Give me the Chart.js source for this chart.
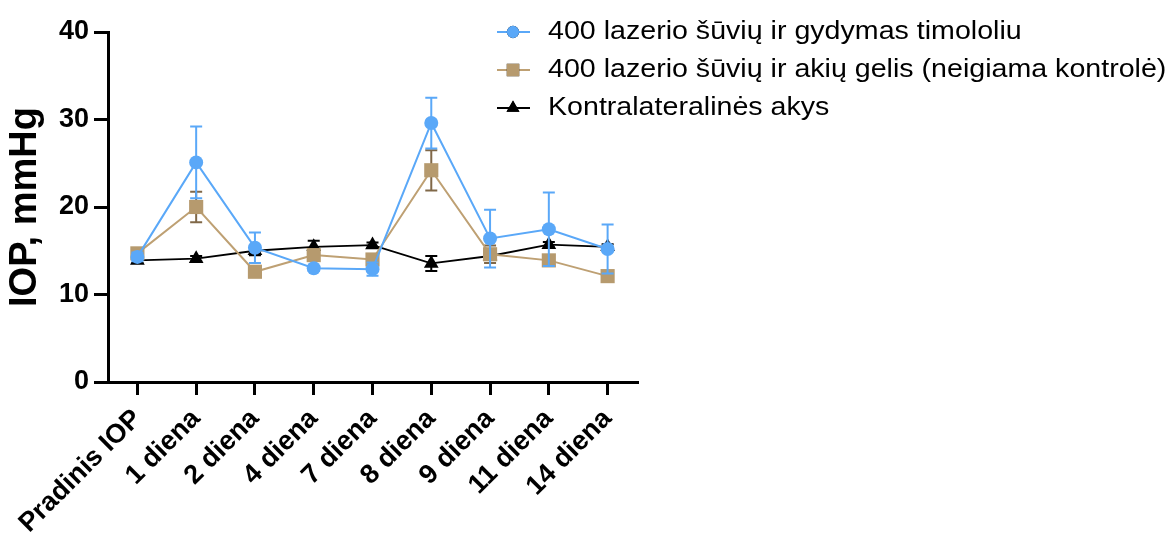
<!DOCTYPE html>
<html><head><meta charset="utf-8">
<script src="https://cdn.jsdelivr.net/npm/chart.js@4.4.1/dist/chart.umd.min.js"></script>
<style>html,body{margin:0;padding:0;background:#fff;}#wrap{width:1170px;height:538px;}</style>
</head><body><div id="wrap"><canvas id="c" width="1170" height="538"></canvas></div>
<script>
const categories = ['Pradinis IOP','1 diena','2 diena','4 diena','7 diena','8 diena','9 diena','11 diena','14 diena'];
const seriesNames = ['400 lazerio šūvių ir gydymas timololiu','400 lazerio šūvių ir akių gelis (neigiama kontrolė)','Kontralateralinės akys'];
const timololValues = [14.3, 25.1, 15.35, 13.0, 12.9, 29.6, 16.4, 17.45, 15.2];
const timololErrors = [0.5, 4.1, 1.75, 0.3, 0.75, 2.9, 3.3, 4.2, 2.8];
const gelValues = [14.7, 20.0, 12.6, 14.5, 14.0, 24.2, 14.6, 13.9, 12.1];
const gelErrors = [0.5, 1.75, 0.5, 0.5, 0.5, 2.3, 1.0, 0.5, 0.6];
const contraValues = [13.9, 14.1, 15.0, 15.45, 15.65, 13.55, 14.4, 15.7, 15.45];
const contraErrors = [0.3, 0.3, 0.5, 0.7, 0.3, 0.85, 0.3, 0.3, 0.3];
const yTicks = [0, 10, 20, 30, 40];
const yTitle = 'IOP, mmHg';

const FONT = "'Liberation Sans', Arial, sans-serif";
const errorInfo = [
  {errors: timololErrors, color: 'rgb(90,168,248)'},
  {errors: gelErrors, color: 'rgb(128,104,72)'},
  {errors: contraErrors, color: '#000'}
];

const errorBarPlugin = {
  id: 'errorBars',
  beforeDatasetDraw(chart, args) {
    const info = errorInfo[args.index];
    const ds = chart.data.datasets[args.index];
    const ys = chart.scales.y;
    const ctx = chart.ctx;
    ctx.save();
    ctx.strokeStyle = info.color;
    ctx.lineWidth = 2;
    args.meta.data.forEach((pt, i) => {
      const v = ds.data[i], e = info.errors[i];
      const x = pt.x;
      const yt = ys.getPixelForValue(v + e), yb = ys.getPixelForValue(v - e);
      ctx.beginPath();
      ctx.moveTo(x, yt); ctx.lineTo(x, yb);
      ctx.moveTo(x - 6, yt); ctx.lineTo(x + 6, yt);
      ctx.moveTo(x - 6, yb); ctx.lineTo(x + 6, yb);
      ctx.stroke();
    });
    ctx.restore();
  }
};

const legendPlugin = {
  id: 'customLegend',
  afterDraw(chart) {
    const ctx = chart.ctx;
    const x0 = 497, x1 = 530, xm = 513, xt = 548;
    const rows = [32, 70, 108];
    chart.data.datasets.forEach((ds, i) => {
      const y = rows[i];
      ctx.save();
      ctx.strokeStyle = ds.borderColor;
      ctx.lineWidth = 2;
      ctx.beginPath(); ctx.moveTo(x0, y); ctx.lineTo(x1, y); ctx.stroke();
      Chart.helpers.drawPoint(ctx, {
        pointStyle: ds.pointStyle, radius: ds.pointRadius * 0.88, borderWidth: 0, rotation: 0
      }, xm, y);
      ctx.fillStyle = ds.pointBackgroundColor;
      ctx.fill();
      ctx.restore();
      ctx.save();
      ctx.fillStyle = '#000';
      ctx.font = '26px ' + FONT;
      ctx.textBaseline = 'middle';
      ctx.translate(xt, y);
      ctx.scale(1.1, 1);
      ctx.fillText(ds.label, 0, 0);
      ctx.restore();
    });
  }
};

new Chart(document.getElementById('c'), {
  type: 'line',
  data: {
    labels: categories,
    datasets: [
      {label: seriesNames[0], data: timololValues, borderColor: 'rgb(90,168,248)', backgroundColor: 'rgb(90,168,248)',
       pointBackgroundColor: 'rgb(90,168,248)', pointBorderColor: 'rgb(90,168,248)', pointStyle: 'circle', pointRadius: 7, borderWidth: 2, pointBorderWidth: 0},
      {label: seriesNames[1], data: gelValues, borderColor: 'rgb(190,160,115)', backgroundColor: 'rgb(182,154,110)',
       pointBackgroundColor: 'rgb(182,154,110)', pointBorderColor: 'rgb(182,154,110)', pointStyle: 'rect', pointRadius: 10, borderWidth: 2, pointBorderWidth: 0},
      {label: seriesNames[2], data: contraValues, borderColor: '#000', backgroundColor: '#000',
       pointBackgroundColor: '#000', pointBorderColor: '#000', pointStyle: 'triangle', pointRadius: 8.5, borderWidth: 1.8, pointBorderWidth: 0}
    ]
  },
  options: {
    responsive: false,
    animation: false,
    devicePixelRatio: 1,
    layout: {padding: {top: 32, right: 533, bottom: 0, left: 0}},
    plugins: {legend: {display: false}, tooltip: {enabled: false}},
    scales: {
      x: {
        type: 'category', offset: true,
        grid: {display: true, drawOnChartArea: false, drawTicks: true, tickLength: 13, color: '#000', lineWidth: 3},
        border: {display: true, color: '#000', width: 3},
        ticks: {color: '#000', font: {family: FONT, size: 27, weight: 'bold'}, minRotation: 45, maxRotation: 45, autoSkip: false, padding: 8},
        afterFit(s) { s.height = 156; }
      },
      y: {
        min: 0, max: 40,
        grid: {display: true, drawOnChartArea: false, drawTicks: true, tickLength: 14, color: '#000', lineWidth: 3},
        border: {display: true, color: '#000', width: 3},
        afterBuildTicks(s) { s.ticks = yTicks.map(v => ({value: v})); },
        ticks: {color: '#000', font: {family: FONT, size: 27, weight: 'bold'}, padding: 5},
        title: {display: true, text: yTitle, color: '#000', font: {family: FONT, size: 38, weight: 'bold'}, padding: {top: 3, bottom: 0}},
        afterFit(s) { s.width = 108; }
      }
    }
  },
  plugins: [errorBarPlugin, legendPlugin]
});
</script></body></html>
